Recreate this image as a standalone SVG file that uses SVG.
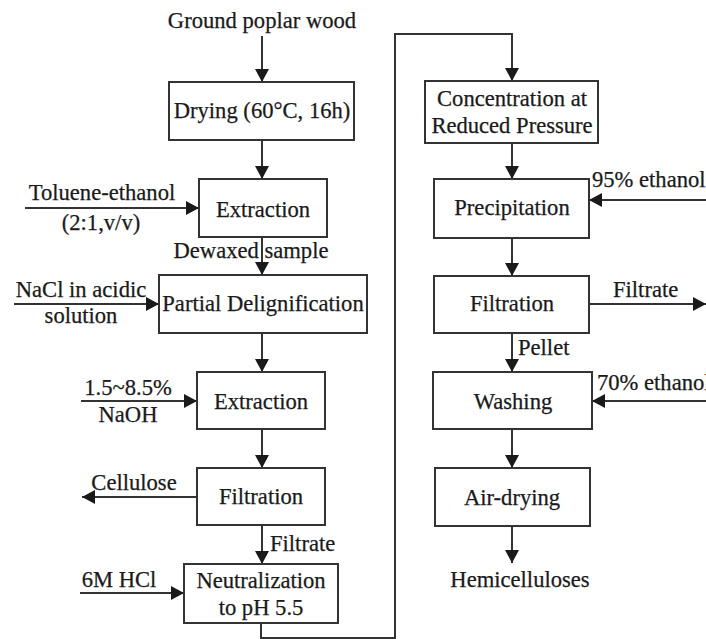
<svg xmlns="http://www.w3.org/2000/svg" width="706" height="639" viewBox="0 0 706 639">
  <style>
    .box { fill: #ffffff; stroke: #333333; stroke-width: 2; }
    .wire { fill: none; stroke: #333333; stroke-width: 2; }
    text { font-family: "Liberation Serif", "DejaVu Serif", serif; font-size: 22.6px; fill: #1a1a1a; stroke: #1a1a1a; stroke-width: 0.25; }
    .c { text-anchor: middle; }
  </style>
  <defs>
    <marker id="arrow" markerUnits="userSpaceOnUse" markerWidth="14" markerHeight="14" refX="13" refY="7" orient="auto">
      <path d="M0,0 L13,7 L0,14 z" fill="#1a1a1a"/>
    </marker>
  </defs>
  <rect width="706" height="639" fill="#ffffff"/>

  <!-- connectors -->
  <g id="connectors" class="wire" marker-end="url(#arrow)">
    <line x1="262" y1="36" x2="262" y2="82"/>
    <line x1="262" y1="140" x2="262" y2="179"/>
    <line x1="25" y1="208" x2="199" y2="208"/>
    <line x1="262" y1="237" x2="262" y2="275"/>
    <line x1="14" y1="304" x2="159" y2="304"/>
    <line x1="262" y1="333" x2="262" y2="372"/>
    <line x1="81" y1="401" x2="197" y2="401"/>
    <line x1="262" y1="429" x2="262" y2="468"/>
    <line x1="197" y1="497" x2="82" y2="497"/>
    <line x1="262" y1="525" x2="262" y2="564"/>
    <line x1="80" y1="593" x2="184" y2="593"/>
    <polyline points="261,623 261,638 395,638 395,34 512,34 512,81"/>
    <line x1="512" y1="143" x2="512" y2="179"/>
    <line x1="706" y1="200" x2="589" y2="200"/>
    <line x1="512" y1="238" x2="512" y2="276"/>
    <line x1="589" y1="304" x2="706" y2="304"/>
    <line x1="512" y1="333" x2="512" y2="372"/>
    <line x1="706" y1="401" x2="592" y2="401"/>
    <line x1="512" y1="429" x2="512" y2="468"/>
    <line x1="512" y1="526" x2="512" y2="563"/>
  </g>

  <!-- left column -->
  <g id="drying">
    <rect class="box" x="169" y="82" width="185" height="58"/>
    <text class="c" x="262" y="118">Drying (60°C, 16h)</text>
  </g>
  <g id="extraction-1">
    <rect class="box" x="199" y="179" width="128" height="58"/>
    <text class="c" x="263" y="217">Extraction</text>
  </g>
  <g id="delignification">
    <rect class="box" x="159" y="275" width="208" height="58"/>
    <text class="c" x="263" y="311">Partial Delignification</text>
  </g>
  <g id="extraction-2">
    <rect class="box" x="197" y="372" width="128" height="57"/>
    <text class="c" x="261" y="409">Extraction</text>
  </g>
  <g id="filtration-1">
    <rect class="box" x="197" y="468" width="128" height="57"/>
    <text class="c" x="261" y="504">Filtration</text>
  </g>
  <g id="neutralization">
    <rect class="box" x="184" y="564" width="154" height="59"/>
    <text class="c" x="261" y="588">Neutralization</text>
    <text class="c" x="261" y="615">to pH 5.5</text>
  </g>

  <!-- right column -->
  <g id="concentration">
    <rect class="box" x="425" y="81" width="173" height="62"/>
    <text class="c" x="512" y="106">Concentration at</text>
    <text class="c" x="512" y="133">Reduced Pressure</text>
  </g>
  <g id="precipitation">
    <rect class="box" x="434" y="179" width="155" height="59"/>
    <text class="c" x="512" y="215">Precipitation</text>
  </g>
  <g id="filtration-2">
    <rect class="box" x="434" y="276" width="155" height="57"/>
    <text class="c" x="512" y="311">Filtration</text>
  </g>
  <g id="washing">
    <rect class="box" x="433" y="372" width="159" height="57"/>
    <text class="c" x="513" y="409">Washing</text>
  </g>
  <g id="air-drying">
    <rect class="box" x="435" y="468" width="155" height="58"/>
    <text class="c" x="512" y="505">Air-drying</text>
  </g>

  <!-- labels -->
  <g id="labels">
    <text class="c" x="262" y="28">Ground poplar wood</text>
    <text class="c" x="102" y="200">Toluene-ethanol</text>
    <text class="c" x="101" y="230">(2:1,v/v)</text>
    <text class="c" x="251" y="258">Dewaxed sample</text>
    <text class="c" x="81" y="297">NaCl in acidic</text>
    <text class="c" x="81" y="323">solution</text>
    <text class="c" x="128" y="395">1.5~8.5%</text>
    <text class="c" x="128" y="422">NaOH</text>
    <text class="c" x="134" y="490">Cellulose</text>
    <text x="270" y="551">Filtrate</text>
    <text class="c" x="119" y="587">6M HCl</text>
    <text x="592" y="187">95% ethanol</text>
    <text x="613" y="297">Filtrate</text>
    <text x="518" y="355">Pellet</text>
    <text x="597" y="390">70% ethanol</text>
    <text class="c" x="520" y="587">Hemicelluloses</text>
  </g>
</svg>
